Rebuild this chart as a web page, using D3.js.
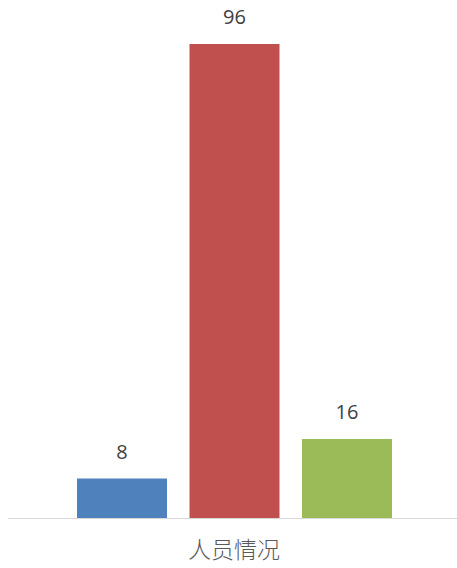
<!DOCTYPE html>
<html>
<head>
<meta charset="utf-8">
<script src="https://cdn.jsdelivr.net/npm/d3@7"></script>
<style>
  body { margin: 0; background: #fff; }
  svg { display: block; }
  .value { font-family: "Open Sans", "Noto Sans", sans-serif; font-size: 20px; fill: #404040; }
  .cat { font-family: "Noto Sans CJK SC", sans-serif; font-size: 23px; font-weight: 300; fill: #595959; }
</style>
</head>
<body>
<svg id="chart" width="457" height="568"></svg>
<script>
  const category = '人员情况';
  const series = ['A', 'B', 'C'];
  const values = [8, 96, 16];
  const colors = ['#4f81bd', '#c0504d', '#9bbb59'];

  const svg = d3.select('#chart');
  const baseY = 518;

  const y = d3.scaleLinear().domain([0, 96]).range([baseY, 44]);
  const x = d3.scaleBand().domain(series).range([77, 392]).paddingInner(0.2);

  // axis line
  svg.append('line')
    .attr('x1', 8).attr('x2', 457)
    .attr('y1', baseY + 0.5).attr('y2', baseY + 0.5)
    .attr('stroke', '#d9d9d9')
    .attr('stroke-width', 1);

  const data = series.map((s, i) => ({s, v: values[i], c: colors[i]}));

  svg.selectAll('rect.bar')
    .data(data)
    .join('rect')
    .attr('class', 'bar')
    .attr('x', d => x(d.s))
    .attr('width', x.bandwidth())
    .attr('y', d => y(d.v))
    .attr('height', d => baseY - y(d.v))
    .attr('fill', d => d.c);

  svg.selectAll('text.value')
    .data(data)
    .join('text')
    .attr('class', 'value')
    .attr('x', d => x(d.s) + x.bandwidth() / 2)
    .attr('y', d => y(d.v) - 20)
    .attr('text-anchor', 'middle')
    .text(d => d.v);

  svg.append('text')
    .attr('class', 'cat')
    .attr('x', 234)
    .attr('y', 558)
    .attr('text-anchor', 'middle')
    .text(category);
</script>
</body>
</html>
